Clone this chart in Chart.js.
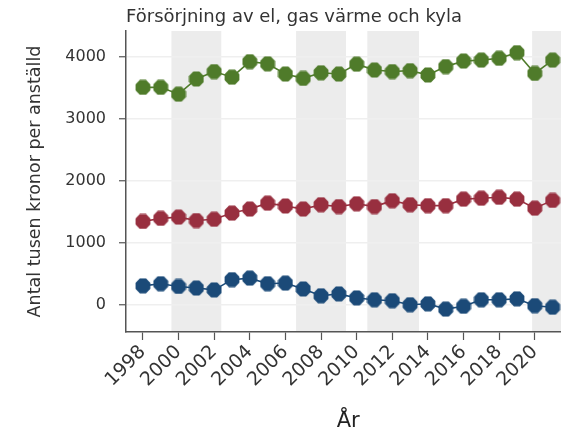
<!DOCTYPE html>
<html>
<head>
<meta charset="utf-8">
<script src="https://cdn.jsdelivr.net/npm/chart.js@4.4.1/dist/chart.umd.min.js"></script>
<style>
    html, body { margin: 0; padding: 0; overflow: hidden; background: #fff; }
    #wrap { width: 580px; height: 434px; }
</style>
</head>
<body>
<div id="wrap"><canvas id="chart" width="580" height="434"></canvas></div>
<script>
const years = [1998, 1999, 2000, 2001, 2002, 2003, 2004, 2005, 2006, 2007, 2008, 2009,
    2010, 2011, 2012, 2013, 2014, 2015, 2016, 2017, 2018, 2019, 2020, 2021];

const greenValues = [3510, 3510, 3400, 3645, 3765, 3675, 3925, 3890, 3725, 3655, 3745, 3725,
    3885, 3790, 3765, 3780, 3710, 3845, 3935, 3950, 3980, 4070, 3735, 3950];
const redValues = [1345, 1395, 1415, 1360, 1380, 1480, 1545, 1640, 1595, 1545, 1615, 1585,
    1630, 1585, 1680, 1615, 1600, 1600, 1705, 1720, 1735, 1705, 1560, 1685];
const blueValues = [305, 340, 295, 270, 240, 405, 430, 340, 350, 255, 145, 175,
    110, 80, 65, 0, 15, -70, -25, 80, 80, 95, -15, -40];

const xTicks = [1998, 2000, 2002, 2004, 2006, 2008, 2010, 2012, 2014, 2016, 2018, 2020];
const yTicks = [0, 1000, 2000, 3000, 4000];

// shaded periods [from, to]
const bands = [[1999.6, 2002.4], [2006.6, 2009.4], [2010.6, 2013.5], [2019.85, 2030]];

const green = '#4f7b2a';
const red = '#982f3f';
const blue = '#1b4a78';

Chart.defaults.font.family = "'DejaVu Sans', sans-serif";
Chart.defaults.color = '#333';

function octagon(color, d) {
    const c = document.createElement('canvas');
    c.width = d;
    c.height = d;
    const g = c.getContext('2d');
    const r = d / 2;
    g.beginPath();
    for (let i = 0; i < 8; i++) {
        const a = Math.PI / 8 + i * Math.PI / 4;
        const px = r + r * Math.cos(a);
        const py = r + r * Math.sin(a);
        if (i === 0) g.moveTo(px, py); else g.lineTo(px, py);
    }
    g.closePath();
    g.fillStyle = color;
    g.fill();
    return c;
}

function series(values, color) {
    return {
        data: years.map((y, i) => ({x: y, y: values[i]})),
        borderColor: color,
        borderWidth: 1.6,
        backgroundColor: color,
        pointStyle: octagon(color, 16),
        pointRadius: 8,
        tension: 0,
    };
}

const bandPlugin = {
    id: 'bands',
    beforeDraw(chart) {
        const {ctx, chartArea, scales} = chart;
        ctx.save();
        ctx.fillStyle = '#ececec';
        for (const [a, b] of bands) {
            const x1 = Math.max(scales.x.getPixelForValue(a), chartArea.left);
            const x2 = Math.min(scales.x.getPixelForValue(b), chartArea.right);
            if (x2 > x1) ctx.fillRect(x1, chartArea.top, x2 - x1, chartArea.bottom - chartArea.top);
        }
        ctx.restore();
    }
};

new Chart(document.getElementById('chart'), {
    type: 'line',
    data: {
        datasets: [series(greenValues, green), series(redValues, red), series(blueValues, blue)]
    },
    plugins: [bandPlugin],
    options: {
        responsive: false,
        animation: false,
        layout: {padding: {left: 0, right: 4, top: 0, bottom: 0}},
        plugins: {
            legend: {display: false},
            tooltip: {enabled: false},
            title: {
                display: true,
                text: 'Försörjning av el, gas värme och kyla',
                align: 'start',
                fullSize: false,
                color: '#333',
                font: {size: 18, weight: 'normal'},
                padding: {top: 7, bottom: 2.4}
            }
        },
        scales: {
            x: {
                type: 'linear',
                min: 1997.05,
                max: 2022,
                afterBuildTicks: scale => { scale.ticks = xTicks.map(v => ({value: v})); },
                afterFit: scale => { scale.height = 102; },
                border: {display: true, color: '#555', width: 1.5},
                grid: {drawOnChartArea: false, tickLength: 8, tickColor: '#555', tickWidth: 1.2},
                ticks: {
                    minRotation: 45,
                    maxRotation: 45,
                    padding: 1,
                    color: '#333',
                    font: {size: 19},
                    callback: v => String(v)
                },
                title: {
                    display: true,
                    text: 'År',
                    color: '#222',
                    font: {size: 21},
                    padding: {top: 0, bottom: 0}
                }
            },
            y: {
                min: -440,
                max: 4420,
                afterBuildTicks: scale => { scale.ticks = yTicks.map(v => ({value: v})); },
                afterFit: scale => { scale.width = 126; },
                border: {display: true, color: '#555', width: 1.5},
                grid: {color: '#efefef', lineWidth: 1.5, tickLength: 7, tickColor: '#555', tickWidth: 1.2},
                ticks: {
                    padding: 13,
                    color: '#333',
                    font: {size: 16},
                    callback: v => String(v)
                },
                title: {
                    display: true,
                    text: 'Antal tusen kronor per anställd',
                    color: '#333',
                    font: {size: 17.5},
                    padding: {top: 25, bottom: 0}
                }
            }
        }
    }
});
</script>
</body>
</html>
